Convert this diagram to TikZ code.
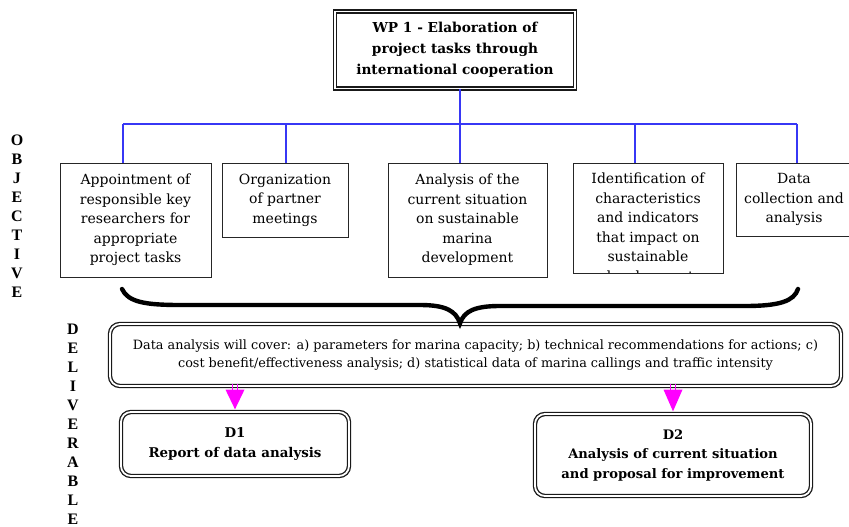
\documentclass[tikz,border=0pt]{standalone}
\usepackage{fontspec}
\setmainfont{DejaVu Serif}
\newfontfamily\sidefont{Liberation Serif}
\usetikzlibrary{calc}
\definecolor{busblue}{RGB}{55,55,245}
\definecolor{arrowpink}{RGB}{255,0,255}
\begin{document}
\begin{tikzpicture}[x=1pt,y=-1pt,
  framebox/.style={draw=black!90, line width=1.3pt, double=white, double distance=1.8pt, fill=white, inner sep=0pt, align=center},
  objbox/.style={draw=black!85, line width=0.9pt, fill=white, inner sep=0pt, align=center, font=\fontsize{14}{19.5}\selectfont},
  objtext/.style={inner sep=0pt, align=center, font=\fontsize{14}{19.5}\selectfont},
  bus/.style={busblue, line width=1.1pt},
  sidelabel/.style={align=center, font=\sidefont\bfseries\fontsize{16}{19}\selectfont},
  stem/.style={arrowpink, line width=1pt},
  brace/.style={line width=4.4pt, line cap=round, black}
]
\useasboundingbox (0,0) rectangle (849,527);

% work package
\node[framebox, minimum width=240, minimum height=77, font=\bfseries\fontsize{13.7}{21}\selectfont] (wp) at (455,50)
  {WP 1 - Elaboration of\\project tasks through\\international cooperation};

% objectives
\node[objbox, minimum width=151, minimum height=114] (o1) at (135.5,220)
  {Appointment of\\responsible key\\researchers for\\appropriate\\project tasks};
\node[objbox, minimum width=126, minimum height=74] (o2) at (285,200)
  {Organization\\of partner\\meetings};
\node[objbox, minimum width=159, minimum height=114] (o3) at (467.5,220)
  {Analysis of the\\current situation\\on sustainable\\marina\\development};
\node[objbox, minimum width=150, minimum height=110] (o4) at (648,218) {};
\begin{scope}
  \clip (574,164) rectangle (722,272.3);
  \node[objtext, anchor=north] (o4t) at (648,173)
    {Identification of\\characteristics\\and indicators\\that impact on\\sustainable\\development};
\end{scope}
\node[objbox, minimum width=116, minimum height=73] (o5) at (794,199.5)
  {Data\\collection and\\analysis};

% distribution bus
\coordinate (hub) at (460,124);
\coordinate (j1) at (123,124);
\coordinate (j2) at (286,124);
\coordinate (j4) at (635,124);
\coordinate (j5) at (797,124);
\draw[bus] (wp.south -| hub) -- (hub);
\draw[bus] (j1) -- (j5);
\draw[bus] (j1) -- (j1 |- o1.north);
\draw[bus] (j2) -- (j2 |- o2.north);
\draw[bus] (hub) -- (hub |- o3.north);
\draw[bus] (j4) -- (j4 |- o4.north);
\draw[bus] (j5) -- (j5 |- o5.north);

% side labels
\node[sidelabel] (objlbl) at (17,216) {O\\B\\J\\E\\C\\T\\I\\V\\E};
\node[sidelabel] (dlvlbl) at (73,424.5) {D\\E\\L\\I\\V\\E\\R\\A\\B\\L\\E};

% deliverable summary
\node[framebox, rounded corners=10pt, minimum width=731, minimum height=62, font=\fontsize{12.8}{18}\selectfont] (dlv) at (475.5,355)
  {Data analysis will cover: a) parameters for marina capacity; b) technical recommendations for actions; c)\\cost benefit/effectiveness analysis; d) statistical data of marina callings and traffic intensity};

% brace gathering the objectives
\draw[brace] (122,289) .. controls (128,302) and (145,305) .. (180,305) -- (420,305)
  .. controls (446,305) and (456,311) .. (dlv.north -| 460,0)
  .. controls (464,311) and (475,306) .. (500,306) -- (745,306)
  .. controls (780,306) and (794,301) .. (798,289);

% deliverables
\node[framebox, rounded corners=10pt, minimum width=228, minimum height=64, font=\bfseries\fontsize{13.4}{20}\selectfont] (d1) at (235,444)
  {D1\\Report of data analysis};
\node[framebox, rounded corners=10pt, minimum width=276, minimum height=82, font=\bfseries\fontsize{13.1}{19.5}\selectfont] (d2) at (673,455)
  {D2\\Analysis of current situation\\and proposal for improvement};

% arrows to the deliverables
\foreach \d in {d1,d2}{
  \coordinate (s) at ($(dlv.south -| \d.north)+(0,-3)$);
  \coordinate (b) at ($(s)+(0,6)$);
  \draw[stem] ($(s)+(-2.5,0)$) -- ($(b)+(-2.5,0)$);
  \draw[stem] ($(s)+(2.5,0)$) -- ($(b)+(2.5,0)$);
  \fill[arrowpink] ($(b)+(-9.5,0)$) -- ($(b)+(9.5,0)$) -- ($(\d.north)+(0,-2)$) -- cycle;
}
\end{tikzpicture}
\end{document}
